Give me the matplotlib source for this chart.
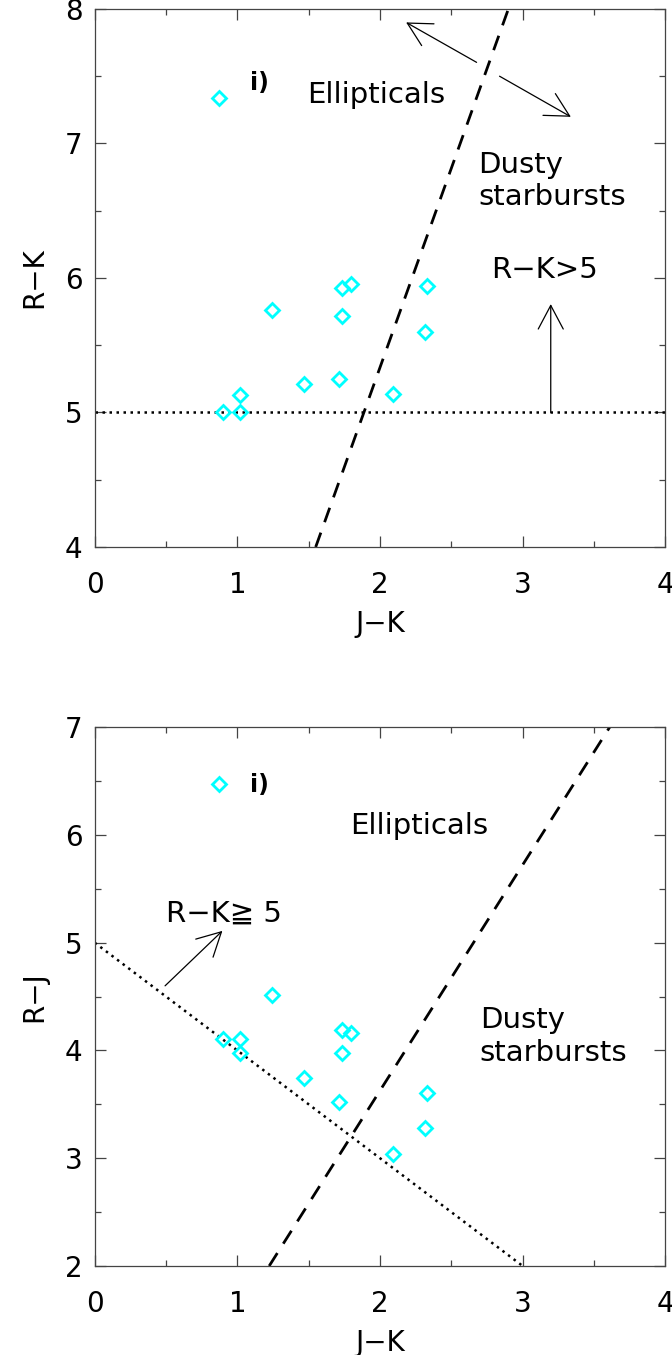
import matplotlib
matplotlib.use('Agg')
import matplotlib.pyplot as plt

# colours of the sample
jk = [0.874, 1.244, 0.897, 1.017, 1.017, 1.467, 1.715, 1.736, 1.736, 1.796, 2.092, 2.312, 2.331]
rk = [7.34, 5.764, 5.005, 5.0, 5.129, 5.214, 5.246, 5.721, 5.925, 5.955, 5.134, 5.597, 5.943]
rj = [6.47, 4.514, 4.108, 3.978, 4.108, 3.74, 3.526, 3.975, 4.186, 4.158, 3.037, 3.282, 3.604]

# dividing lines
sep_top_x = [1.549, 2.90]
sep_top_y = [4.0, 8.0]
sep_bot_x = [1.223, 3.61]
sep_bot_y = [2.0, 7.0]
cut_top_x = [0.0, 4.0]
cut_top_y = [5.0, 5.0]
cut_bot_x = [0.0, 3.0]
cut_bot_y = [5.0, 2.0]

xticks = [0, 1, 2, 3, 4]
yticks_top = [4, 5, 6, 7, 8]
yticks_bot = [2, 3, 4, 5, 6, 7]

plt.rcParams['font.family'] = ['DejaVu Sans']

fig = plt.figure(figsize=(6.72, 13.55), dpi=100)
ax1 = fig.add_axes([0.141, 0.5963, 0.849, 0.3971])
ax2 = fig.add_axes([0.141, 0.0657, 0.849, 0.3976])

dot = (0, (1, 1.8))
dash = (0, (5.5, 4))
arr = dict(arrowstyle='->, head_length=0.85, head_width=0.45', mutation_scale=20,
           color='black', lw=0.9, shrinkA=0, shrinkB=0)
fs = 21


def style(ax, yt, lab):
    ax.set_xlim(0, 4)
    ax.set_xticks(xticks)
    ax.set_yticks(yt)
    ax.set_ylim(yt[0], yt[-1])
    ax.set_xticks([0.5, 1.5, 2.5, 3.5], minor=True)
    ax.set_yticks([v + 0.5 for v in yt[:-1]], minor=True)
    ax.tick_params(which='both', direction='in', top=True, right=True, width=0.9, color='#444444')
    ax.tick_params(which='major', length=8, labelsize=20)
    ax.tick_params(which='minor', length=4)
    ax.tick_params(axis='x', pad=17)
    ax.tick_params(axis='y', pad=9)
    for s in ax.spines.values():
        s.set_linewidth(0.9)
        s.set_color('#444444')
    ax.set_xlabel('J\u2212K', fontsize=20, labelpad=8)
    ax.set_ylabel(lab, fontsize=20, labelpad=12)


# top panel
ax1.plot(cut_top_x, cut_top_y, color='black', ls=dot, lw=1.8)
ax1.plot(sep_top_x, sep_top_y, color='black', ls=dash, lw=2)
ax1.plot(jk, rk, ls='none', marker='D', ms=7, mfc='none', mec='cyan', mew=2)
ax1.text(1.09, 7.45, 'i)', fontsize=17, fontweight='bold', va='center')
ax1.text(1.49, 7.36, 'Ellipticals', fontsize=fs, va='center')
ax1.text(2.69, 6.72, 'Dusty\nstarbursts', fontsize=fs, va='center', linespacing=1.2)
ax1.text(2.78, 6.06, 'R\u2212K>5', fontsize=fs, va='center')
ax1.annotate('', xy=(3.197, 5.806), xytext=(3.197, 5.0), arrowprops=arr)
ax1.annotate('', xy=(2.183, 7.90), xytext=(2.677, 7.603), arrowprops=arr)
ax1.annotate('', xy=(3.338, 7.198), xytext=(2.838, 7.50), arrowprops=arr)
style(ax1, yticks_top, 'R\u2212K')

# bottom panel
ax2.plot(cut_bot_x, cut_bot_y, color='black', ls=dot, lw=1.8)
ax2.plot(sep_bot_x, sep_bot_y, color='black', ls=dash, lw=2)
ax2.plot(jk, rj, ls='none', marker='D', ms=7, mfc='none', mec='cyan', mew=2)
ax2.text(1.09, 6.46, 'i)', fontsize=17, fontweight='bold', va='center')
ax2.text(1.79, 6.08, 'Ellipticals', fontsize=fs, va='center')
ax2.text(2.70, 4.13, 'Dusty\nstarbursts', fontsize=fs, va='center', linespacing=1.2)
ax2.text(0.498, 5.27, 'R\u2212K\u2267 5', fontsize=fs, va='center')
ax2.annotate('', xy=(0.895, 5.11), xytext=(0.493, 4.60), arrowprops=arr)
style(ax2, yticks_bot, 'R\u2212J')

fig.savefig('out.png', dpi=100)
